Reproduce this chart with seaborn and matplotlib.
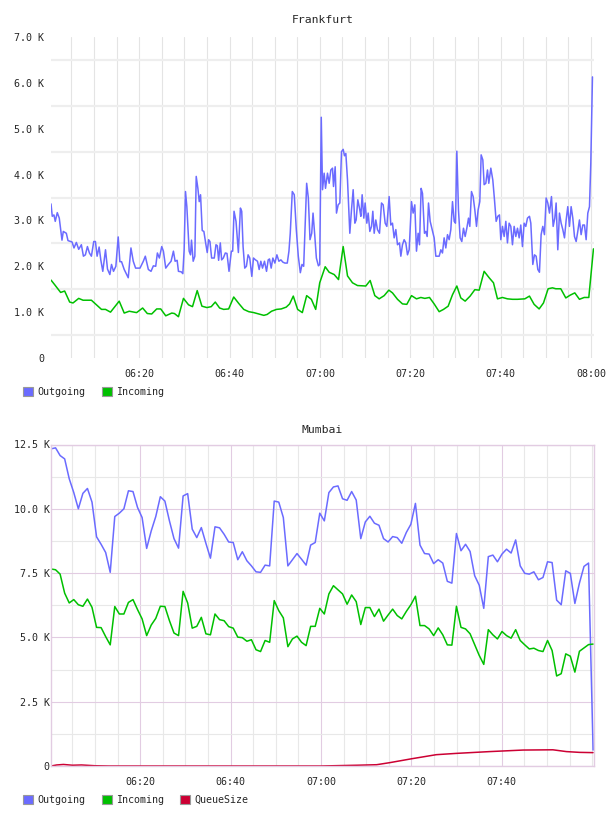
import numpy as np
import pandas as pd
import matplotlib
matplotlib.use("Agg")
import matplotlib.pyplot as plt
from matplotlib.patches import Patch
import seaborn as sns

# ---- data (time = minutes after 06:00, values in K) ----
frankfurt_out_t = [
    0.5, 0.78, 1.15, 1.44, 1.89, 2.33, 2.93, 3.22, 3.89, 4.26, 5.15, 5.59, 6.11, 6.63, 7.22, 7.67, 8.11, 8.56,
    9.0, 9.44, 9.96, 10.33, 10.7, 11.15, 11.52, 11.96, 12.56, 13.0, 13.52, 13.89, 14.33, 14.85, 15.37, 15.74,
    16.11, 16.7, 17.59, 18.19, 18.7, 19.22, 20.19, 20.93, 21.37, 22.04, 22.63, 23.15, 23.67, 24.04, 24.48,
    25.0, 25.37, 25.89, 26.48, 27.07, 27.59, 27.96, 28.41, 28.7, 29.3, 29.67, 29.96, 30.26, 30.56, 31.07,
    31.37, 31.59, 31.96, 32.33, 32.63, 33.0, 33.3, 33.59, 33.96, 34.33, 34.78, 35.07, 35.37, 35.67, 36.04,
    36.63, 37.0, 37.3, 37.59, 37.96, 38.26, 38.63, 39.07, 39.44, 39.89, 40.41, 40.7, 41.0, 41.44, 41.96,
    42.41, 42.7, 43.0, 43.37, 43.74, 44.11, 44.48, 44.93, 45.3, 45.74, 46.19, 46.56, 46.93, 47.3, 47.74,
    48.19, 48.56, 48.85, 49.22, 49.59, 50.04, 50.48, 50.93, 51.37, 51.81, 52.26, 52.78, 53.15, 53.44, 53.89,
    54.33, 54.78, 55.22, 55.67, 56.04, 56.41, 56.7, 57.07, 57.44, 57.81, 58.19, 58.48, 58.85, 59.22, 59.67,
    59.96, 60.3, 60.58, 60.94, 61.24, 61.68, 62.05, 62.42, 62.79, 63.01, 63.38, 63.67, 64.04, 64.41, 64.78,
    65.15, 65.44, 65.74, 66.11, 66.62, 66.99, 67.36, 67.73, 68.02, 68.39, 68.83, 69.06, 69.35, 69.72, 70.01,
    70.38, 70.68, 71.05, 71.42, 71.71, 72.01, 72.37, 72.74, 73.19, 73.63, 74.0, 74.44, 74.81, 75.32, 75.69,
    76.06, 76.43, 76.8, 77.17, 77.61, 77.91, 78.27, 78.64, 79.01, 79.38, 79.75, 80.27, 80.63, 81.0, 81.37,
    81.74, 82.04, 82.4, 82.7, 83.14, 83.44, 83.73, 84.03, 84.4, 84.84, 85.28, 85.65, 86.39, 86.76, 87.12,
    87.49, 87.86, 88.23, 88.6, 88.97, 89.34, 89.71, 90.0, 90.3, 90.66, 91.03, 91.4, 91.77, 92.14, 92.51,
    92.88, 93.17, 93.54, 93.91, 94.28, 94.65, 95.01, 95.38, 95.68, 96.05, 96.34, 96.71, 97.08, 97.37, 97.82,
    98.26, 98.63, 99.0, 99.37, 99.73, 100.03, 100.4, 100.77, 101.14, 101.5, 101.87, 102.24, 102.61, 102.98,
    103.35, 103.72, 104.09, 104.45, 104.82, 105.19, 105.56, 105.93, 106.37, 106.67, 107.11, 107.48, 107.85,
    108.22, 108.58, 108.95, 109.32, 109.69, 110.06, 110.43, 110.8, 111.24, 111.61, 111.98, 112.27, 112.64,
    113.01, 113.38, 113.75, 114.12, 114.49, 114.85, 115.22, 115.59, 115.96, 116.33, 116.7, 117.06, 117.43,
    117.8, 118.17, 118.54, 118.91, 119.28, 119.65, 119.94, 120.31,
]
frankfurt_out_k = [
    3.36, 3.09, 3.12, 2.98, 3.17, 3.05, 2.57, 2.76, 2.72, 2.56, 2.53, 2.40, 2.52, 2.37, 2.47, 2.22, 2.25, 2.43,
    2.29, 2.22, 2.54, 2.54, 2.22, 2.42, 2.14, 1.89, 2.36, 1.94, 1.82, 2.04, 1.89, 2.0, 2.64, 2.1,
    2.1, 1.93, 1.75, 2.40, 2.11, 1.96, 1.96, 2.11, 2.22, 1.93, 1.89, 2.01, 2.0, 2.29, 2.18,
    2.43, 2.33, 1.96, 2.04, 2.11, 2.33, 2.11, 2.13, 1.89, 1.88, 1.84, 2.36, 3.63, 3.30, 2.33,
    2.25, 2.57, 2.11, 2.22, 3.96, 3.70, 3.41, 3.56, 2.78, 2.76, 2.47, 2.30, 2.58, 2.54, 2.18,
    2.18, 2.47, 2.45, 2.13, 2.51, 2.14, 2.18, 2.29, 2.28, 1.89, 2.33, 2.33, 3.20, 2.98, 2.30,
    3.27, 3.20, 2.43, 1.96, 2.0, 2.25, 2.18, 1.78, 2.18, 2.14, 2.11, 1.93, 2.11, 1.96, 2.11,
    1.89, 2.14, 2.16, 1.96, 2.18, 2.07, 2.25, 2.11, 2.14, 2.09, 2.07, 2.07, 2.33, 2.72, 3.63,
    3.56, 2.80, 2.22, 1.86, 2.04, 2.0, 2.80, 3.81, 3.49, 2.58, 2.72, 3.16, 2.69, 2.18, 2.01,
    2.04, 5.25, 3.67, 4.03, 3.70, 4.03, 3.81, 4.10, 4.14, 3.74, 4.17, 3.16, 3.34, 3.38, 4.5,
    4.55, 4.41, 4.46, 3.88, 2.72, 3.23, 3.67, 2.94, 3.01, 3.45, 3.23, 3.09, 3.56, 3.05, 3.38,
    2.94, 3.16, 2.76, 2.87, 3.20, 2.72, 3.01, 2.80, 2.72, 3.38, 3.34, 2.94, 2.87, 3.52, 2.90,
    2.94, 2.62, 2.80, 2.47, 2.51, 2.22, 2.47, 2.58, 2.51, 2.25, 2.36, 3.41, 3.16, 3.34, 2.33,
    2.72, 2.47, 3.70, 3.59, 2.72, 2.76, 2.65, 3.38, 2.98, 2.80, 2.62, 2.22, 2.22, 2.36, 2.29,
    2.62, 2.40, 2.69, 2.58, 2.80, 3.41, 2.98, 2.94, 4.51, 3.23, 2.62, 2.54, 2.83, 2.65, 2.83,
    3.05, 2.87, 3.63, 3.52, 3.23, 2.87, 3.23, 3.41, 4.43, 4.32, 3.78, 3.81, 4.10, 3.81, 4.14,
    3.88, 3.45, 2.98, 3.09, 3.12, 2.58, 2.87, 2.65, 2.98, 2.51, 2.94, 2.87, 2.47, 2.87,
    2.65, 2.83, 2.62, 2.90, 2.43, 2.94, 2.87, 3.05, 3.09, 2.94, 2.04, 2.25, 2.22,
    1.93, 1.87, 2.69, 2.87, 2.69, 3.49, 3.38, 3.16, 3.52, 2.87, 3.05, 3.38, 2.36,
    3.16, 2.94, 2.80, 2.62, 3.01, 3.30, 2.87, 3.30, 3.05, 2.65, 2.54, 2.76, 3.01,
    2.69, 2.90, 2.90, 2.58, 3.16, 3.30, 4.24, 6.13,
]
frankfurt_in_t = [
    0.5, 1.3, 2.63, 3.52, 4.63, 5.37, 6.63, 7.59, 9.44, 11.67, 12.56, 13.67, 15.59, 16.7, 17.81, 19.44,
    20.78, 21.81, 22.78, 23.89, 24.78, 25.89, 27.22, 27.81, 28.7, 29.81, 30.93, 31.81, 32.85, 33.89, 35.0,
    35.96, 36.85, 37.81, 38.7, 39.81, 40.93, 42.04, 43.15, 44.26, 45.37, 46.48, 47.59, 48.33, 49.3, 50.41,
    51.44, 52.56, 53.3, 54.11, 55.07, 56.11, 57.07, 58.11, 59.07, 59.96, 61.17, 62.05, 63.16, 64.12, 65.15,
    66.11, 67.21, 68.32, 70.16, 71.12, 72.15, 73.11, 74.22, 75.25, 76.06, 77.17, 78.27, 79.23, 80.27, 81.37,
    82.33, 83.22, 84.25, 85.28, 86.39, 87.35, 88.38, 89.34, 90.3, 91.18, 92.14, 93.24, 94.28, 95.24, 96.34,
    97.45, 98.41, 99.29, 100.4, 101.5, 102.61, 103.72, 105.34, 106.37, 107.4, 108.51, 109.47, 110.5, 111.46,
    112.2, 113.3, 114.41, 115.37, 116.4, 117.43, 118.47, 119.5, 120.53,
]
frankfurt_in_k = [
    1.70, 1.60, 1.43, 1.46, 1.22, 1.20, 1.30, 1.26, 1.26, 1.06, 1.06, 1.0, 1.24, 0.98, 1.02, 0.99,
    1.09, 0.97, 0.96, 1.07, 1.07, 0.92, 0.98, 0.97, 0.90, 1.30, 1.16, 1.12, 1.47, 1.13, 1.10,
    1.12, 1.22, 1.09, 1.06, 1.07, 1.33, 1.19, 1.06, 1.01, 0.99, 0.96, 0.93, 0.95, 1.02, 1.06,
    1.07, 1.11, 1.18, 1.35, 1.06, 0.99, 1.36, 1.28, 1.06, 1.64, 1.99, 1.87, 1.82, 1.71, 2.43,
    1.79, 1.64, 1.58, 1.57, 1.69, 1.36, 1.29, 1.36, 1.48, 1.42, 1.28, 1.18, 1.17, 1.36, 1.29,
    1.32, 1.30, 1.32, 1.18, 1.01, 1.06, 1.13, 1.38, 1.57, 1.31, 1.24, 1.35, 1.49, 1.48, 1.89,
    1.75, 1.64, 1.29, 1.32, 1.29, 1.28, 1.28, 1.29, 1.35, 1.17, 1.07, 1.20, 1.51, 1.53,
    1.51, 1.51, 1.31, 1.37, 1.42, 1.28, 1.32, 1.32, 2.38,
]

# Mumbai: one sample per minute, 120 samples
mumbai_first_min, mumbai_last_min = 0.25, 120.2
mumbai_out_k = [
    12.33, 12.37, 12.07, 11.94, 11.17, 10.63, 10.0, 10.6, 10.79, 10.26, 8.91, 8.62, 8.30, 7.53, 9.70,
    9.83, 10.0, 10.70, 10.67, 10.05, 9.66, 8.46, 9.14, 9.70, 10.47, 10.30, 9.53, 8.84, 8.47, 10.50,
    10.59, 9.21, 8.88, 9.27, 8.66, 8.08, 9.30, 9.26, 9.01, 8.71, 8.69, 8.02, 8.33, 7.98, 7.78,
    7.55, 7.53, 7.81, 7.78, 10.30, 10.26, 9.66, 7.78, 8.02, 8.26, 8.04, 7.81, 8.59, 8.69, 9.83,
    9.53, 10.63, 10.85, 10.89, 10.39, 10.33, 10.67, 10.34, 8.84, 9.49, 9.71, 9.44, 9.36, 8.84, 8.71,
    8.92, 8.88, 8.66, 9.08, 9.40, 10.21, 8.59, 8.26, 8.24, 7.87, 8.02, 7.89, 7.18, 7.11, 9.04,
    8.37, 8.62, 8.34, 7.40, 7.03, 6.13, 8.14, 8.20, 7.94, 8.24, 8.43, 8.28, 8.79, 7.78, 7.49,
    7.46, 7.55, 7.24, 7.33, 7.94, 7.91, 6.45, 6.27, 7.59, 7.49, 6.32, 7.11, 7.76, 7.89, 0.62,
]
mumbai_in_k = [
    7.66, 7.63, 7.46, 6.72, 6.34, 6.47, 6.27, 6.21, 6.49, 6.17, 5.39, 5.38, 5.03, 4.71, 6.20,
    5.91, 5.91, 6.36, 6.47, 6.08, 5.72, 5.07, 5.48, 5.74, 6.21, 6.20, 5.65, 5.17, 5.07, 6.79,
    6.34, 5.36, 5.43, 5.78, 5.14, 5.10, 5.91, 5.69, 5.65, 5.42, 5.36, 5.01, 4.99, 4.85, 4.91,
    4.52, 4.45, 4.88, 4.81, 6.43, 6.04, 5.76, 4.64, 4.94, 5.05, 4.81, 4.68, 5.43, 5.43, 6.13,
    5.91, 6.69, 7.01, 6.85, 6.69, 6.29, 6.65, 6.39, 5.50, 6.16, 6.16, 5.81, 6.10, 5.63, 5.87,
    6.10, 5.85, 5.72, 6.01, 6.27, 6.60, 5.46, 5.46, 5.33, 5.07, 5.37, 5.10, 4.71, 4.70, 6.21,
    5.39, 5.33, 5.14, 4.72, 4.30, 3.95, 5.30, 5.10, 4.94, 5.23, 5.07, 4.97, 5.30, 4.88, 4.71,
    4.55, 4.58, 4.49, 4.45, 4.88, 4.49, 3.50, 3.59, 4.36, 4.27, 3.65, 4.46, 4.59, 4.72, 4.74,
]
mumbai_queue_t = [0.25, 1.5, 3.0, 5.0, 7.0, 10.0, 13.0, 60.0, 68.0, 72.3, 75.2, 80.0, 85.5, 89.9,
                  97.3, 104.7, 111.3, 114.3, 117.2, 120.2]
mumbai_queue_k = [0.0, 0.04, 0.06, 0.03, 0.04, 0.01, 0.0, 0.0, 0.03, 0.05, 0.13, 0.28, 0.44, 0.49,
                  0.56, 0.62, 0.63, 0.56, 0.53, 0.52]

series_names = ["Outgoing", "Incoming", "QueueSize"]
series_colors = ["#6b6bff", "#00c000", "#cc0033"]
tick_minutes = [20, 40, 60, 80, 100, 120]

# ---- style ----
sns.set_style("white")
plt.rcParams["font.family"] = ["DejaVu Sans Mono"]
FS = 7.2
GRID = "#e8e8e8"
PINK = "#e2cce2"


def hhmm(m):
    m = int(round(m))
    return f"{6 + m // 60:02d}:{m % 60:02d}"


def k_label(v):
    return "0" if v == 0 else f"{v:.1f} K"


fig = plt.figure(figsize=(6.08, 8.16), dpi=100)
W, H = 608, 816
ax1 = fig.add_axes([51 / W, 1 - 358 / H, 543 / W, 321 / H])
ax2 = fig.add_axes([51 / W, 1 - 766 / H, 543 / W, 321.5 / H])

# ---- Frankfurt ----
for m in range(5, 121, 5):
    ax1.axvline(m, color="#e4e4e4", lw=0.8, zorder=0)
for v in np.arange(0.5, 7, 1.0):
    ax1.axhline(v, color="#eeeeee", lw=1.6, zorder=0)

df_fo = pd.DataFrame({"t": frankfurt_out_t, "v": frankfurt_out_k})
df_fi = pd.DataFrame({"t": frankfurt_in_t, "v": frankfurt_in_k})
sns.lineplot(data=df_fo, x="t", y="v", ax=ax1, color=series_colors[0], lw=1.1, sort=False)
sns.lineplot(data=df_fi, x="t", y="v", ax=ax1, color=series_colors[1], lw=1.1, sort=False)

ax1.set_xlim(0.5, 120.65)
ax1.set_ylim(0, 7)
ax1.set_yticks(range(0, 8))
ax1.set_yticklabels([k_label(v) for v in range(0, 8)])
ax1.set_xticks(tick_minutes)
ax1.set_xticklabels([hhmm(m) for m in tick_minutes])
ax1.tick_params(axis="y", length=0, pad=5, labelsize=FS)
ax1.tick_params(axis="x", length=0, pad=8, labelsize=FS)
for s in ax1.spines.values():
    s.set_visible(False)
ax1.set_xlabel("")
ax1.set_ylabel("")
ax1.set_title("Frankfurt", fontsize=8.2, pad=10)

# ---- Mumbai ----
mumbai_t = np.linspace(mumbai_first_min, mumbai_last_min, len(mumbai_out_k))
for m in range(5, 121, 5):
    ax2.axvline(m, color=PINK if m % 20 == 0 and m < 120 else GRID, lw=0.8, zorder=0)
for v in np.arange(0, 12.6, 1.25):
    ax2.axhline(v, color=PINK if round(v / 1.25) % 2 == 0 else GRID, lw=0.8, zorder=0)

df_m = pd.DataFrame({
    "t": np.concatenate([mumbai_t, mumbai_t]),
    "v": mumbai_out_k + mumbai_in_k,
    "series": ["Outgoing"] * len(mumbai_t) + ["Incoming"] * len(mumbai_t),
})
sns.lineplot(data=df_m, x="t", y="v", hue="series", ax=ax2, lw=1.1, sort=False,
             palette={"Outgoing": series_colors[0], "Incoming": series_colors[1]}, legend=False)
sns.lineplot(x=mumbai_queue_t, y=mumbai_queue_k, ax=ax2, color=series_colors[2], lw=1.1, sort=False)

ax2.set_xlim(0.25, 120.4)
ax2.set_ylim(0, 12.5)
mum_yticks = [0, 2.5, 5.0, 7.5, 10.0, 12.5]
ax2.set_yticks(mum_yticks)
ax2.set_yticklabels([k_label(v) for v in mum_yticks])
ax2.set_xticks(tick_minutes[:-1])
ax2.set_xticklabels([hhmm(m) for m in tick_minutes[:-1]])
ax2.tick_params(axis="y", length=0, pad=1, labelsize=FS)
ax2.tick_params(axis="x", length=0, pad=8, labelsize=FS)
for s in ax2.spines.values():
    s.set_color(PINK)
    s.set_linewidth(1.0)
ax2.set_xlabel("")
ax2.set_ylabel("")
ax2.set_title("Mumbai", fontsize=8.2, pad=8)

# ---- legends ----
def legend_for(n, y_px):
    handles = [Patch(facecolor=series_colors[i], edgecolor="#999999", lw=0.8) for i in range(n)]
    fig.legend(handles, series_names[:n], loc="center left",
               bbox_to_anchor=(23 / W, 1 - y_px / H), ncol=n, frameon=False,
               fontsize=FS, handlelength=1.0, handleheight=1.0, handletextpad=0.45,
               columnspacing=1.6, borderpad=0, borderaxespad=0)

legend_for(2, 392)
legend_for(3, 800)

fig.savefig("out.png", dpi=100, facecolor="white")
